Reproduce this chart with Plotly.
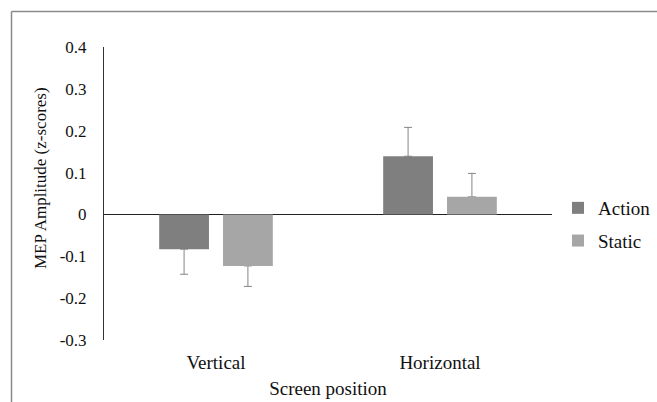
import plotly.graph_objects as go

# ---- data ----
categories = ["Vertical", "Horizontal"]
action = [-0.083, 0.139]
static = [-0.123, 0.042]
action_err = [0.060, 0.069]
static_err = [0.049, 0.056]
y_tick_vals = [-0.3, -0.2, -0.1, 0, 0.1, 0.2, 0.3, 0.4]
y_tick_text = ["-0.3", "-0.2", "-0.1", "0", "0.1", "0.2", "0.3", "0.4"]

FONT = "Liberation Serif"
TXT = "#111111"
C_ACTION = "#7f7f7f"
C_STATIC = "#a6a6a6"
C_ERR = "#858585"


def outer_only(vals, errs):
    plus = [e if v >= 0 else 0 for v, e in zip(vals, errs)]
    minus = [e if v < 0 else 0 for v, e in zip(vals, errs)]
    return plus, minus


fig = go.Figure()

# error bars drawn on transparent copies, underneath the visible bars
for name, vals, errs, grp in [("Action", action, action_err, "A"),
                              ("Static", static, static_err, "S")]:
    plus, minus = outer_only(vals, errs)
    fig.add_trace(go.Bar(
        x=categories, y=vals, offsetgroup=grp, showlegend=False,
        marker=dict(color="rgba(0,0,0,0)", line=dict(width=0)),
        hoverinfo="skip",
        error_y=dict(type="data", symmetric=False, array=plus, arrayminus=minus,
                     color=C_ERR, thickness=1, width=4),
    ))

fig.add_trace(go.Bar(x=categories, y=action, name="Action", offsetgroup="A",
                     legendgroup="a", marker=dict(color=C_ACTION, line=dict(width=0))))
fig.add_trace(go.Bar(x=categories, y=static, name="Static", offsetgroup="S",
                     legendgroup="s", marker=dict(color=C_STATIC, line=dict(width=0))))

L, R, T, B = 104, 105, 47, 62
W, H = 657, 402
pw, ph = W - L - R, H - T - B


def px(x):
    return (x - L) / pw


def py(y):
    return (H - B - y) / ph


fig.update_layout(
    width=W, height=H,
    margin=dict(l=L, r=R, t=T, b=B, autoexpand=False),
    paper_bgcolor="white", plot_bgcolor="white",
    barmode="group", bargap=0.43, bargroupgap=0.22,
    font=dict(family=FONT, color=TXT, size=17),
    showlegend=True,
    legend=dict(x=px(558), y=py(189), xanchor="left", yanchor="top",
                font=dict(size=19, family=FONT, color=TXT),
                traceorder="grouped", tracegroupgap=5,
                bgcolor="rgba(0,0,0,0)", borderwidth=0),
    xaxis=dict(showline=False, showgrid=False, zeroline=False, ticks="",
               tickfont=dict(size=19, family=FONT, color=TXT),
               ticklabelstandoff=9,
               title=dict(text="Screen position", standoff=9,
                          font=dict(size=19, family=FONT, color=TXT))),
    yaxis=dict(range=[-0.3, 0.4], tickvals=y_tick_vals, ticktext=y_tick_text,
               showgrid=False, showline=True, linecolor="#333333", linewidth=1,
               zeroline=True, zerolinecolor="#222222", zerolinewidth=1,
               ticks="", ticklabelstandoff=13,
               tickfont=dict(size=17, family=FONT, color=TXT)),
    annotations=[dict(text="MEP Amplitude (z-scores)", textangle=-90,
                      xref="paper", yref="paper", x=px(40), y=py(178),
                      xanchor="center", yanchor="middle", showarrow=False,
                      font=dict(size=17, family=FONT, color=TXT))],
    shapes=[
        dict(type="line", xref="paper", yref="paper", x0=px(11.5), x1=px(11.5),
             y0=py(11.5), y1=py(410), line=dict(color="#8a8a8a", width=1.5)),
        dict(type="line", xref="paper", yref="paper", x0=px(11.5), x1=px(670),
             y0=py(11.5), y1=py(11.5), line=dict(color="#8a8a8a", width=1.5)),
    ],
)

fig.write_html("out.html")
